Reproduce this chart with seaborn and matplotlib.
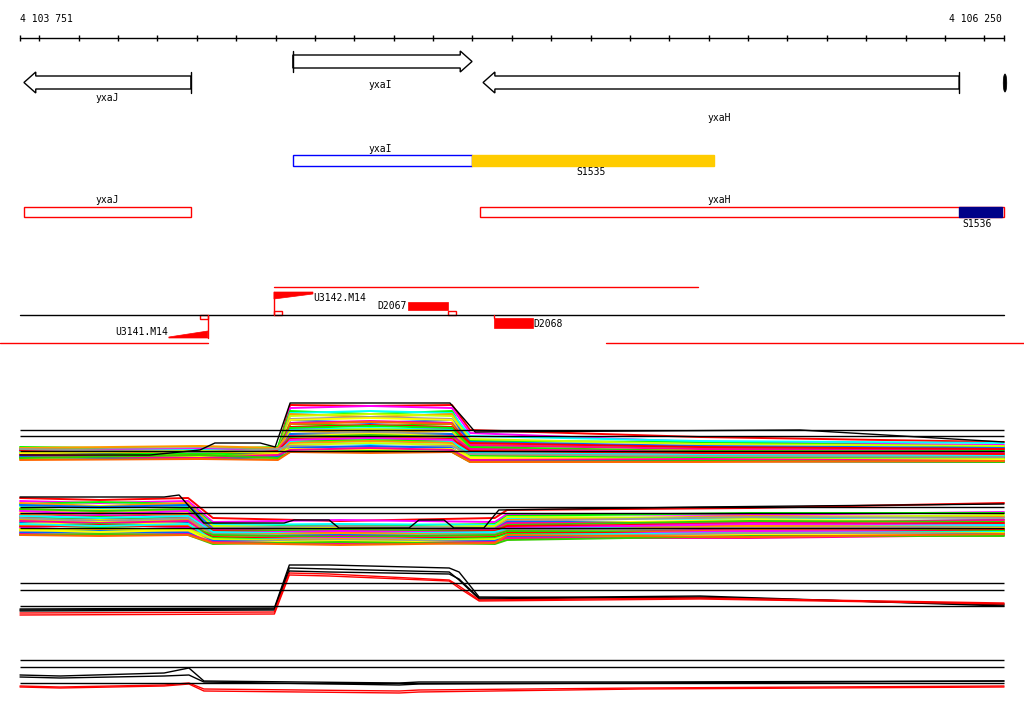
import matplotlib
matplotlib.use('Agg')
import matplotlib.pyplot as plt
from matplotlib.patches import Polygon, Rectangle, Ellipse
import pandas as pd
import seaborn as sns

# genome window
START = 4103751
END = 4106250
PX_PER_BP = 984 / (END - START)
X0 = START - 20 / PX_PER_BP
X1 = START + 1004 / PX_PER_BP

# genes (bp)
gene_names = ['yxaJ', 'yxaI', 'yxaH']
gene_start = [4103761, 4104444, 4104927]
gene_end = [4104185, 4104899, 4106136]
gene_strand = ['-', '+', '-']

# transcription units / features
tu_names = ['yxaI', 'yxaJ', 'yxaH']
tu_start = [4104444, 4103761, 4104919]
tu_end = [4104899, 4104185, 4106250]
s1535 = (4104899, 4105513)
s1536 = (4106136, 4106245)

# probes / tiling features
u3142 = (4104396, 4104495)
d2067 = (4104736, 4104838)
d2068 = (4104955, 4105054)
u3141 = (4104129, 4104228)

# expression panel A
# knots: start, left-mid, pre-jump, post-jump, centre, pre-drop, post-drop, right-mid, end
A_knots = [4103751, 4104208, 4104406, 4104437, 4104640, 4104848, 4104894, 4105478, 4106250]
A_left = [2.6, 2.2, 2.8, 1.9, 2.4, 2.1, 2.5, 1.7, 2.3, 2.0, 2.6, 1.8, 2.2, 2.4, 1.6, 2.1, 2.7, 1.9,
          2.3, 2.0, 1.8, 2.5, 2.2, 1.7, 2.4, 2.0, 1.9, 2.3, 2.1, 1.6, 2.6, 1.8, 2.2, 2.0, 1.7, 1.5]
A_left2 = [2.3, 2.5, 2.6, 2.2, 2.0, 2.4, 2.7, 1.9, 2.0, 2.3, 2.4, 2.1, 1.9, 2.6, 1.8, 1.8, 2.9, 1.6,
           2.5, 2.2, 2.1, 2.2, 2.4, 1.9, 2.1, 1.7, 2.2, 2.5, 1.8, 1.9, 2.3, 1.6, 2.4, 1.7, 2.0, 1.6]
A_mid = [7.0, 6.7, 6.4, 6.2, 6.1, 5.9, 5.6, 5.5, 5.5, 5.2, 5.1, 5.1, 4.8, 4.7, 4.7, 4.5, 4.4, 4.4,
         4.1, 4.1, 3.9, 3.9, 3.8, 3.6, 3.6, 3.5, 3.3, 3.3, 3.2, 3.0, 2.9, 2.7, 2.6, 2.5, 2.3, 2.3]
A_mid2 = [6.9, 6.9, 6.1, 6.4, 5.8, 6.1, 5.8, 5.2, 5.7, 5.4, 4.9, 5.3, 5.0, 4.5, 4.9, 4.7, 4.2, 4.6,
          4.3, 3.9, 4.1, 3.7, 4.0, 3.8, 3.4, 3.7, 3.5, 3.1, 3.4, 3.2, 2.8, 2.9, 2.5, 2.7, 2.4, 2.2]
A_r0 = [4.5, 4.2, 3.4, 3.9, 3.1, 3.6, 2.9, 3.3, 2.6, 3.0, 2.8, 2.4, 3.2, 2.2, 2.7, 2.0, 2.5, 1.9,
        2.3, 2.1, 1.8, 2.6, 1.7, 2.0, 2.4, 1.6, 1.9, 2.2, 1.5, 1.8, 2.1, 1.4, 1.7, 1.5, 1.3, 1.3]
A_rmid = [3.8, 3.3, 3.3, 3.4, 2.7, 3.1, 2.8, 2.9, 2.5, 2.6, 2.4, 2.3, 2.8, 2.1, 2.3, 2.1, 2.2, 1.7,
          2.2, 1.9, 1.8, 2.3, 1.8, 1.7, 2.2, 1.6, 1.7, 2.0, 1.6, 1.5, 1.9, 1.4, 1.6, 1.6, 1.4, 1.3]
A_r1 = [3.3, 3.0, 2.8, 3.2, 2.6, 2.9, 2.4, 2.7, 2.2, 2.5, 2.3, 2.0, 2.6, 1.9, 2.4, 1.8, 2.1, 1.7,
        2.0, 1.9, 1.6, 2.2, 1.5, 1.8, 2.1, 1.5, 1.7, 1.9, 1.4, 1.6, 1.8, 1.3, 1.5, 1.4, 1.3, 1.4]
A_black_x = [4103751, 4104081, 4104208, 4104246, 4104361, 4104399, 4104437, 4104843, 4104881,
             4104907, 4105732, 4106250]
A_black_y = [2.0, 2.0, 2.5, 3.2, 3.2, 2.8, 7.2, 7.2, 5.5, 4.3, 4.5, 3.3]
A_refs = [4.5, 3.9, 2.4]

# expression panel B
# knots: start, left-mid, pre-drop, post-drop, centre, pre-rise, post-rise, right-mid, end
B_knots = [4103751, 4103954, 4104178, 4104241, 4104564, 4104957, 4104988, 4105605, 4106250]
B_left = [5.2, 4.9, 4.6, 4.4, 4.7, 4.2, 4.0, 4.5, 3.8, 3.6, 4.1, 3.5, 3.3, 3.9, 3.1, 3.4, 3.0, 2.8,
          3.2, 2.7, 2.6, 2.9, 2.4, 2.5, 2.3, 2.2, 2.0, 2.6, 1.9, 2.1, 1.8, 1.7, 2.0, 1.6, 1.5, 1.5]
B_left2 = [5.0, 4.7, 4.8, 4.2, 4.4, 4.4, 3.8, 4.3, 4.0, 3.4, 3.9, 3.7, 3.1, 3.6, 3.3, 3.2, 2.8, 3.0,
           2.9, 2.5, 2.8, 2.7, 2.6, 2.3, 2.5, 2.0, 2.2, 2.4, 2.1, 1.9, 1.7, 1.9, 1.8, 1.5, 1.6, 1.4]
B_mid = [3.2, 2.8, 2.6, 2.5, 2.3, 2.4, 2.2, 2.1, 2.0, 2.1, 1.9, 1.8, 1.9, 1.7, 1.6, 1.8, 1.5, 1.4,
         1.6, 1.3, 1.4, 1.2, 1.5, 1.1, 1.3, 1.0, 1.2, 1.0, 0.9, 1.1, 0.8, 0.9, 0.7, 0.8, 0.6, 0.7]
B_mid2 = [2.9, 3.0, 2.4, 2.6, 2.1, 2.2, 2.4, 1.9, 2.2, 1.8, 2.0, 1.6, 1.7, 1.9, 1.4, 1.6, 1.7, 1.2,
          1.4, 1.5, 1.2, 1.4, 1.3, 1.2, 1.0, 1.2, 0.9, 1.1, 1.1, 0.8, 1.0, 0.7, 0.9, 0.6, 0.8, 0.5]
B_r0 = [4.0, 3.6, 3.4, 3.2, 3.0, 3.3, 2.9, 2.8, 2.6, 2.7, 2.5, 2.3, 2.4, 2.2, 2.0, 2.1, 1.9, 1.8,
        2.0, 1.7, 1.8, 1.6, 1.9, 1.5, 1.7, 1.4, 1.6, 1.5, 1.3, 1.4, 1.2, 1.3, 1.1, 1.2, 1.0, 1.5]
B_rmid = [4.2, 3.5, 3.7, 3.1, 3.4, 3.2, 3.3, 2.8, 3.0, 2.7, 2.9, 2.4, 2.6, 2.6, 2.2, 2.3, 2.4, 1.9,
          2.2, 2.0, 1.9, 2.1, 1.8, 2.0, 1.7, 1.9, 1.5, 1.7, 1.6, 1.4, 1.7, 1.3, 1.5, 1.2, 1.4, 1.3]
B_r1 = [4.7, 3.8, 3.7, 3.4, 3.3, 3.5, 3.2, 3.0, 2.9, 3.0, 2.8, 2.6, 2.7, 2.5, 2.4, 2.5, 2.3, 2.2,
        2.3, 2.1, 2.2, 2.0, 2.1, 1.9, 2.0, 1.8, 1.9, 1.8, 1.7, 1.7, 1.6, 1.6, 1.5, 1.5, 1.4, 1.6]
B_black_x = [4103751, 4104117, 4104155, 4104218, 4104422, 4104447, 4104536, 4104561, 4104739,
             4104764, 4104828, 4104853, 4104929, 4104967, 4105478, 4106250]
B_black_y = [5.3, 5.3, 5.5, 2.7, 2.7, 3.0, 3.0, 2.2, 2.2, 3.0, 3.0, 2.2, 2.2, 4.0, 4.3, 4.6]
B_refs = [4.3, 3.7, 2.2]

# expression panel C (black and red profiles)
C_knots = [4103751, 4104397, 4104435, 4104536, 4104841, 4104866, 4104917, 4105478, 4106250]
C_lines = {
    'k1': [1.1, 1.2, 5.5, 5.5, 5.2, 4.8, 2.3, 2.2, 1.6],
    'k2': [1.0, 1.1, 5.2, 5.1, 4.8, 4.0, 2.1, 2.3, 1.5],
    'k3': [0.9, 1.0, 4.9, 4.8, 4.6, 4.1, 2.2, 2.4, 1.4],
    'r1': [0.7, 0.8, 4.7, 4.6, 4.0, 3.4, 2.0, 2.2, 1.7],
    'r2': [0.5, 0.6, 4.5, 4.4, 3.9, 3.2, 1.9, 2.1, 1.6],
}
C_refs = [3.7, 3.0, 1.4]

# expression panel D
D_knots = [4103751, 4103853, 4104117, 4104180, 4104218, 4104714, 4104764, 4105326, 4106250]
D_lines = {
    'k1': [2.5, 2.4, 2.7, 3.2, 1.9, 1.7, 1.8, 1.8, 1.9],
    'k2': [2.3, 2.2, 2.4, 2.5, 1.8, 1.5, 1.6, 1.7, 1.9],
    'r1': [1.4, 1.3, 1.5, 1.7, 1.1, 0.9, 1.0, 1.2, 1.4],
    'r2': [1.3, 1.2, 1.4, 1.6, 0.9, 0.7, 0.8, 1.1, 1.3],
}
D_refs = [4.0, 3.3, 1.7]

tick_bp = [START] + list(range(4103800, 4106201, 100)) + [END]

probe_colors = ['#ff0000', '#ff00ff', '#00ff00', '#00ffff', '#ff9900', '#ccff00',
                '#999999', '#0066ff', '#ffff00', '#ff0099', '#33cc00', '#ff6600']

FONT = dict(family='DejaVu Sans Mono', fontsize=7, color='black')


def bp(px):
    return START + (px - 20) / PX_PER_BP


def profile_frame(knots, rows):
    recs = []
    for name, vals in rows.items():
        for x, v in zip(knots, vals):
            recs.append({'pos': x, 'signal': v, 'probe': name})
    return pd.DataFrame(recs)


def add_panel(fig, top, bottom, refs):
    ax = fig.add_axes([0, 1 - bottom / 714, 1, (bottom - top) / 714])
    ax.set_xlim(X0, X1)
    ax.set_ylim(0, (bottom - top) / 10)
    ax.axis('off')
    ax.patch.set_alpha(0)
    ax.hlines(refs, START, END, color='black', lw=1, zorder=10)
    return ax


def draw_colored(ax, knots, cols, black_x, black_y):
    # cols: left, left2, mid, mid2, r0, rmid, r1
    rows = {}
    for i, v in enumerate(zip(*cols)):
        rows['p%02d' % i] = [v[0], v[1], v[0], v[2], v[3], v[2], v[4], v[5], v[6]]
    df = profile_frame(knots, rows)
    pal = [probe_colors[i % len(probe_colors)] for i in range(len(rows))]
    sns.lineplot(data=df, x='pos', y='signal', hue='probe', palette=pal, estimator=None,
                 sort=False, legend=False, lw=1.4, ax=ax)
    ax.plot(black_x, black_y, color='black', lw=1, zorder=6)
    ax.set_xlim(X0, X1)
    ax.axis('off')


def draw_pairs(ax, knots, lines):
    df = profile_frame(knots, lines)
    pal = {k: ('black' if k.startswith('k') else '#ff0000') for k in lines}
    sns.lineplot(data=df, x='pos', y='signal', hue='probe', palette=pal, estimator=None,
                 sort=False, legend=False, lw=1, ax=ax)
    ax.set_xlim(X0, X1)
    ax.axis('off')


def arrow(ax, s, e, strand, yt, yb, bt, bb):
    head = 30
    ym = (bt + bb) / 2
    if strand == '-':
        pts = [(s, ym), (s + head, bt), (s + head, yt), (e, yt), (e, yb), (s + head, yb), (s + head, bb)]
        tail = e
    else:
        pts = [(e, ym), (e - head, bt), (e - head, yt), (s, yt), (s, yb), (e - head, yb), (e - head, bb)]
        tail = s
    ax.add_patch(Polygon(pts, closed=True, fc='white', ec='black', lw=1))
    ax.plot([tail, tail], [bt, bb], color='black', lw=1)


sns.set_style('white')
fig = plt.figure(figsize=(10.24, 7.14), dpi=100)
ax = fig.add_axes([0, 0, 1, 1])
ax.set_xlim(X0, X1)
ax.set_ylim(714, 0)
ax.axis('off')

# ruler
ax.plot([START, END], [38, 38], color='black', lw=1)
ax.vlines(tick_bp, 35, 41, color='black', lw=1)
ax.text(START, 19.5, '4 103 751', ha='left', va='center', **FONT)
ax.text(END - 2 / PX_PER_BP, 19.5, '4 106 250', ha='right', va='center', **FONT)

# gene arrows
arrow(ax, gene_start[0], gene_end[0], gene_strand[0], 76, 89, 72, 93)
arrow(ax, gene_start[1], gene_end[1], gene_strand[1], 55, 68, 51, 72)
arrow(ax, gene_start[2], gene_end[2], gene_strand[2], 76, 89, 72, 93)
ax.add_patch(Ellipse((END + 1 / PX_PER_BP, 83), 3.5 / PX_PER_BP, 18, fc='black', ec='black', lw=0.5))
ax.text(bp(107), 98, 'yxaJ', ha='center', va='center', **FONT)
ax.text(bp(380), 85, 'yxaI', ha='center', va='center', **FONT)
ax.text(bp(719), 118, 'yxaH', ha='center', va='center', **FONT)

# transcription unit rows
ax.add_patch(Rectangle((tu_start[0], 155), tu_end[0] - tu_start[0], 11, fc='white', ec='#0000ff', lw=1))
ax.add_patch(Rectangle((s1535[0], 155), s1535[1] - s1535[0], 11, fc='#ffcc00', ec='#ffcc00', lw=1))
ax.text(bp(380), 149, 'yxaI', ha='center', va='center', **FONT)
ax.text(bp(591), 172, 'S1535', ha='center', va='center', **FONT)

ax.add_patch(Rectangle((tu_start[1], 207), tu_end[1] - tu_start[1], 10, fc='white', ec='#ff0000', lw=1))
ax.add_patch(Rectangle((tu_start[2], 207), tu_end[2] - tu_start[2], 10, fc='white', ec='#ff0000', lw=1))
ax.add_patch(Rectangle((s1536[0], 207), s1536[1] - s1536[0], 10, fc='#000088', ec='#000088', lw=1))
ax.text(bp(107), 200, 'yxaJ', ha='center', va='center', **FONT)
ax.text(bp(719), 200, 'yxaH', ha='center', va='center', **FONT)
ax.text(bp(977), 224, 'S1536', ha='center', va='center', **FONT)

# probe features
red = '#ff0000'
ax.plot([START, END], [315, 315], color='black', lw=1)
ax.plot([u3142[0], bp(698)], [287, 287], color=red, lw=1)
ax.plot([X0, u3141[1]], [343, 343], color=red, lw=1)
ax.plot([bp(606), X1], [343, 343], color=red, lw=1)

ax.add_patch(Polygon([(u3142[0], 292), (u3142[1], 292), (u3142[1], 294), (u3142[0], 299)],
                     fc=red, ec=red, lw=0.5))
ax.plot([u3142[0], u3142[0]], [292, 315], color=red, lw=1)
ax.add_patch(Rectangle((u3142[0], 311), 20, 4, fc='none', ec=red, lw=1))
ax.text(u3142[1], 298, 'U3142.M14', ha='left', va='center', **FONT)

ax.add_patch(Rectangle((d2067[0], 302), d2067[1] - d2067[0], 8, fc=red, ec=red, lw=0.5))
ax.add_patch(Rectangle((d2067[1], 311), 20, 4, fc='none', ec=red, lw=1))
ax.text(d2067[0] - 2, 306, 'D2067', ha='right', va='center', **FONT)

ax.add_patch(Rectangle((d2068[0], 318), d2068[1] - d2068[0], 10, fc=red, ec=red, lw=0.5))
ax.plot([d2068[0], d2068[0]], [315, 318], color=red, lw=1)
ax.text(d2068[1], 324, 'D2068', ha='left', va='center', **FONT)

ax.add_patch(Polygon([(u3141[0], 338), (u3141[1], 338), (u3141[1], 331), (u3141[0], 337)],
                     fc=red, ec=red, lw=0.5))
ax.plot([u3141[1], u3141[1]], [315, 338], color=red, lw=1)
ax.add_patch(Rectangle((u3141[1] - 20, 315), 20, 4, fc='none', ec=red, lw=1))
ax.text(u3141[0] - 2, 332, 'U3141.M14', ha='right', va='center', **FONT)

# expression panels
axA = add_panel(fig, 395, 475, A_refs)
draw_colored(axA, A_knots, [A_left, A_left2, A_mid, A_mid2, A_r0, A_rmid, A_r1], A_black_x, A_black_y)

axB = add_panel(fig, 490, 550, B_refs)
draw_colored(axB, B_knots, [B_left, B_left2, B_mid, B_mid2, B_r0, B_rmid, B_r1], B_black_x, B_black_y)

axC = add_panel(fig, 555, 620, C_refs)
draw_pairs(axC, C_knots, C_lines)

axD = add_panel(fig, 650, 700, D_refs)
draw_pairs(axD, D_knots, D_lines)

fig.savefig('out.png', dpi=100)
